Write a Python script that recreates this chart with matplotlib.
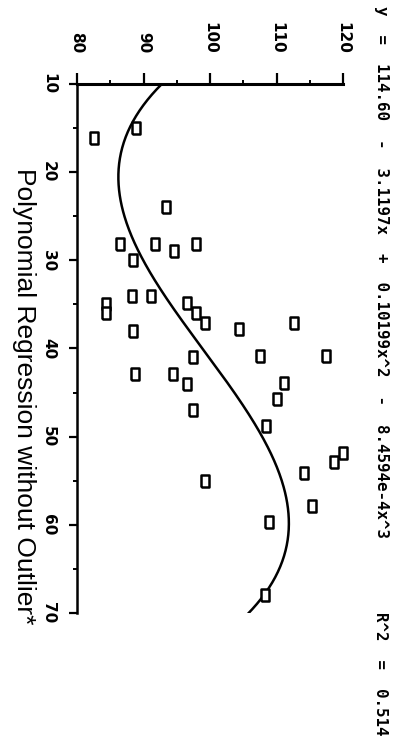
import numpy as np
import matplotlib
matplotlib.use("Agg")
import matplotlib.pyplot as plt
from matplotlib.ticker import MultipleLocator
from matplotlib.path import Path

# ---- data (x = horizontal value in original chart) ----
x_vals = [16.1, 15.0, 24.0, 28.1, 28.1, 28.9, 28.1, 30.0, 34.9, 36.0,
          34.1, 34.1, 34.8, 36.0, 37.1, 37.8, 38.0, 41.0, 42.9, 42.9,
          44.0, 47.0, 55.0, 37.1, 40.9, 40.8, 43.9, 45.7, 48.8, 51.9,
          52.9, 54.1, 57.9, 59.7, 68.0]
y_vals = [82.6, 88.8, 93.4, 86.5, 91.7, 94.6, 97.9, 88.4, 84.3, 84.4,
          88.2, 91.1, 96.6, 97.9, 99.2, 104.3, 88.4, 97.5, 88.7, 94.4,
          96.5, 97.5, 99.3, 112.6, 107.5, 117.5, 111.1, 110.0, 108.4, 120.0,
          118.7, 114.2, 115.3, 108.8, 108.2]
# printed fit coefficients (highest power first)
fit_coef = [-8.4594e-4, 0.10199, -3.1197, 114.60]
x_ticks = [10, 20, 30, 40, 50, 60, 70]
y_ticks = [80, 90, 100, 110, 120]
title = "Polynomial Regression without Outlier*"
eq_text = "y  =  114.60  -  3.1197x  +  0.10199x^2  -  8.4594e-4x^3"
r2_text = "R^2  =  0.514"

W, H = 401, 750
fig = plt.figure(figsize=(W / 100, H / 100), dpi=100)
# rotated chart: original y-values run horizontally, original x runs downward
ax = fig.add_axes([77 / W, 1 - 613 / H, (343 - 77) / W, (613 - 84) / H])

xs = np.linspace(x_ticks[0], x_ticks[-1], 400)
ax.plot(np.polyval(fit_coef, xs), xs, color="black", lw=1.8, zorder=2)

rect = Path([(-0.35, -0.5), (0.35, -0.5), (0.35, 0.5), (-0.35, 0.5), (-0.35, -0.5)])
ax.plot(y_vals, x_vals, ls="none", marker=rect, ms=8, mfc="white",
        mec="black", mew=1.8, zorder=3, clip_on=False)

ax.set_xlim(y_ticks[0], y_ticks[-1])
ax.set_ylim(x_ticks[-1], x_ticks[0])
ax.set_xticks(y_ticks)
ax.set_yticks(x_ticks)
ax.xaxis.set_minor_locator(MultipleLocator(5))
ax.yaxis.set_minor_locator(MultipleLocator(5))

for s in ["right", "bottom"]:
    ax.spines[s].set_visible(False)
ax.spines["top"].set_linewidth(2.2)
ax.spines["left"].set_linewidth(1.8)

ax.xaxis.set_ticks_position("top")
ax.tick_params(axis="x", which="major", direction="out", length=8, width=1.6,
               pad=14, labelsize=11, labelrotation=-90)
ax.tick_params(axis="x", which="minor", direction="out", length=3, width=1.4)
ax.tick_params(axis="y", which="major", direction="out", length=6, width=1.6,
               pad=9, labelsize=11, labelrotation=-90)
ax.tick_params(axis="y", which="minor", direction="out", length=3, width=1.4)
for lbl in ax.get_xticklabels():
    lbl.set_fontweight("bold")
    lbl.set_ha("center")
    lbl.set_va("bottom")
for lbl in ax.get_yticklabels():
    lbl.set_fontweight("bold")
    lbl.set_ha("right")
    lbl.set_va("center")

fig.text(381 / W, 1 - 6 / H, eq_text, rotation=-90, ha="center", va="top",
         family="DejaVu Sans Mono", fontweight="bold", fontsize=11.3)
fig.text(381 / W, 1 - 612 / H, r2_text, rotation=-90, ha="center", va="top",
         family="DejaVu Sans Mono", fontweight="bold", fontsize=11.3)
fig.text(24 / W, 1 - 396 / H, title, rotation=-90, ha="center", va="center",
         family="Liberation Sans", fontsize=19)

fig.savefig("out.png", dpi=100)
